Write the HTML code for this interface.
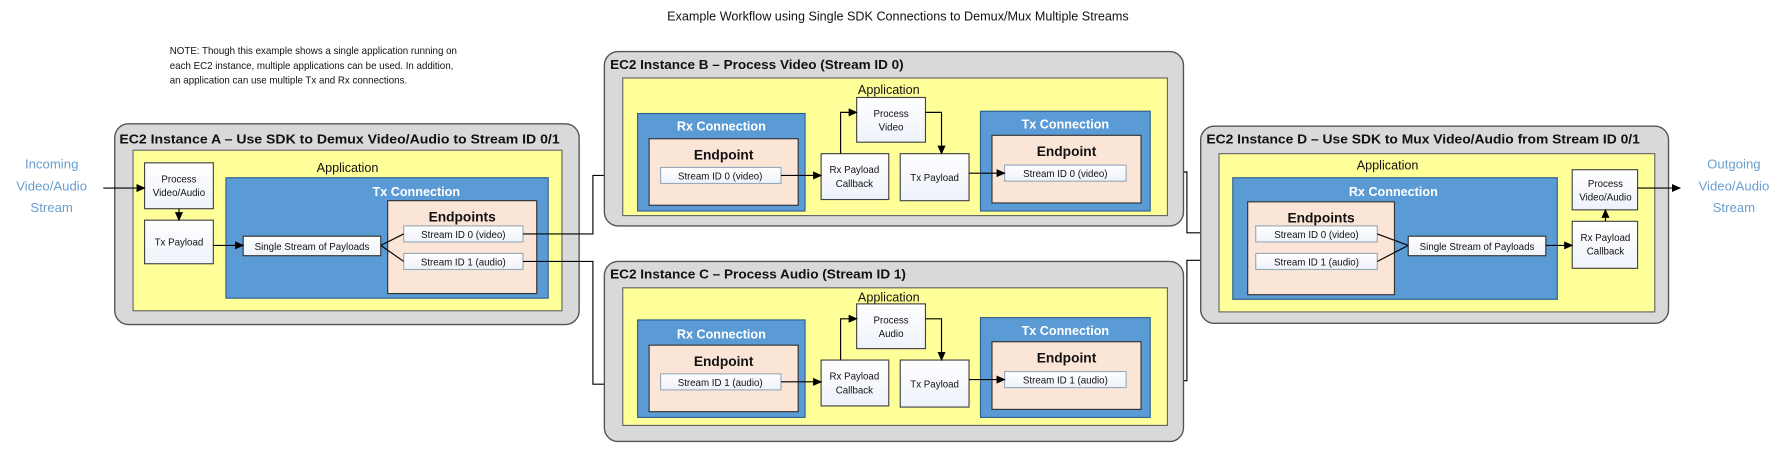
<!DOCTYPE html>
<html><head><meta charset="utf-8"><style>
html,body{margin:0;padding:0;background:#fff}
svg{display:block}
text{font-family:"Liberation Sans",sans-serif}
.t{font-weight:bold;font-size:11.5px;fill:#111}
.ap{font-size:11px;fill:#111;text-anchor:middle}
.cn{font-weight:bold;font-size:11px;fill:#fff;text-anchor:middle}
.ep{font-weight:bold;font-size:12px;fill:#111;text-anchor:middle}
.s{font-size:8.5px;fill:#111;text-anchor:middle}
.io{font-size:11.5px;fill:#6a9fd0;text-anchor:middle}
</style></head><body>
<svg width="1789" height="451" viewBox="0 0 1560 393.3" xmlns="http://www.w3.org/2000/svg">
<defs>
<marker id="a" markerWidth="8" markerHeight="8" refX="7" refY="4" orient="auto" markerUnits="userSpaceOnUse"><path d="M0,0.5 L8,4 L0,7.5z" fill="#000"/></marker>
<linearGradient id="w" x1="0" y1="0" x2="0" y2="1"><stop offset="0" stop-color="#fff"/><stop offset="1" stop-color="#eef2fa"/></linearGradient>
</defs>
<text x="783" y="18" font-size="11" text-anchor="middle" fill="#111">Example Workflow using Single SDK Connections to Demux/Mux Multiple Streams</text>
<g font-size="8.5" fill="#111">
<text x="148" y="47">NOTE: Though this example shows a single application running on</text>
<text x="148" y="60">each EC2 instance, multiple applications can be used. In addition,</text>
<text x="148" y="73">an application can use multiple Tx and Rx connections.</text>
</g>

<!-- Instance A -->
<rect x="100" y="108" width="405" height="175" rx="12" fill="#d9d9d9" stroke="#555" stroke-width="1.2"/>
<text class="t" x="104" y="125" textLength="384" lengthAdjust="spacingAndGlyphs">EC2 Instance A – Use SDK to Demux Video/Audio to Stream ID 0/1</text>
<rect x="116" y="131" width="374" height="140" fill="#ffff99" stroke="#666"/>
<text class="ap" x="303" y="150">Application</text>
<rect x="126" y="142" width="60" height="40" fill="url(#w)" stroke="#444"/>
<text class="s" x="156" y="159">Process</text><text class="s" x="156" y="171">Video/Audio</text>
<rect x="126" y="192" width="60" height="38" fill="url(#w)" stroke="#444"/>
<text class="s" x="156" y="214">Tx Payload</text>
<rect x="197" y="155" width="281" height="105" fill="#5b9bd5" stroke="#2f5f8f"/>
<text class="cn" x="363" y="171">Tx Connection</text>
<rect x="338" y="175" width="130" height="81" fill="#fbe5d6" stroke="#333"/>
<text class="ep" x="403" y="193">Endpoints</text>
<rect x="352" y="197" width="104" height="14" fill="url(#w)" stroke="#9ab"/>
<text class="s" x="404" y="207.5">Stream ID 0 (video)</text>
<rect x="352" y="221" width="104" height="14" fill="url(#w)" stroke="#9ab"/>
<text class="s" x="404" y="231.5">Stream ID 1 (audio)</text>
<rect x="212" y="206" width="120" height="17" fill="url(#w)" stroke="#333"/>
<text class="s" x="272" y="218">Single Stream of Payloads</text>
<path d="M332,214 L352,204 M332,214 L352,228" stroke="#000" fill="none"/>
<line x1="156" y1="182" x2="156" y2="192" stroke="#000" marker-end="url(#a)"/>
<line x1="186" y1="214" x2="212" y2="214" stroke="#000" marker-end="url(#a)"/>
<text class="io" x="45" y="147">Incoming</text><text class="io" x="45" y="166">Video/Audio</text><text class="io" x="45" y="185">Stream</text>
<line x1="90" y1="164" x2="126" y2="164" stroke="#000" marker-end="url(#a)"/>

<!-- connectors -->
<path d="M456,204 L517,204 L517,153 L576,153" stroke="#000" fill="none" marker-end="url(#a)"/>
<path d="M456,228 L517,228 L517,335 L576,335" stroke="#000" fill="none" marker-end="url(#a)"/>
<path d="M982,150 L1035,150 L1035,203 L1095,203" stroke="#000" fill="none" marker-end="url(#a)"/>
<path d="M982,332 L1035,332 L1035,227 L1095,227" stroke="#000" fill="none" marker-end="url(#a)"/>

<!-- Instance B -->
<g id="B">
<rect x="527" y="45" width="505" height="152" rx="12" fill="#d9d9d9" stroke="#555" stroke-width="1.2"/>
<text class="t" x="532" y="60" textLength="256" lengthAdjust="spacingAndGlyphs">EC2 Instance B – Process Video (Stream ID 0)</text>
<rect x="543" y="68" width="475" height="120" fill="#ffff99" stroke="#666"/>
<text class="ap" x="775" y="82">Application</text>
<rect x="556" y="99" width="146" height="85" fill="#5b9bd5" stroke="#2f5f8f"/>
<text class="cn" x="629" y="114">Rx Connection</text>
<rect x="566" y="121" width="130" height="58" fill="#fbe5d6" stroke="#333"/>
<text class="ep" x="631" y="139">Endpoint</text>
<rect x="576" y="146" width="105" height="14" fill="url(#w)" stroke="#9ab"/>
<text class="s" x="628" y="156.5">Stream ID 0 (video)</text>
<rect x="716" y="134" width="59" height="40" fill="url(#w)" stroke="#444"/>
<text class="s" x="745" y="151">Rx Payload</text><text class="s" x="745" y="163">Callback</text>
<rect x="747" y="85" width="60" height="39" fill="url(#w)" stroke="#444"/>
<text class="s" x="777" y="102">Process</text><text class="s" x="777" y="114">Video</text>
<rect x="785" y="134" width="60" height="41" fill="url(#w)" stroke="#444"/>
<text class="s" x="815" y="158">Tx Payload</text>
<rect x="855" y="97" width="148" height="87" fill="#5b9bd5" stroke="#2f5f8f"/>
<text class="cn" x="929" y="112">Tx Connection</text>
<rect x="865" y="118" width="130" height="59" fill="#fbe5d6" stroke="#333"/>
<text class="ep" x="930" y="136">Endpoint</text>
<rect x="876" y="144" width="106" height="14" fill="url(#w)" stroke="#9ab"/>
<text class="s" x="929" y="154.5">Stream ID 0 (video)</text>
<line x1="681" y1="153" x2="716" y2="153" stroke="#000" marker-end="url(#a)"/>
<path d="M733,134 L733,98 L747,98" stroke="#000" fill="none" marker-end="url(#a)"/>
<path d="M807,98 L821,98 L821,134" stroke="#000" fill="none" marker-end="url(#a)"/>
<line x1="845" y1="151" x2="876" y2="151" stroke="#000" marker-end="url(#a)"/>
</g>

<!-- Instance C -->
<g transform="translate(0,183)">
<rect x="527" y="45" width="505" height="157" rx="12" fill="#d9d9d9" stroke="#555" stroke-width="1.2"/>
<text class="t" x="532" y="60" textLength="258" lengthAdjust="spacingAndGlyphs">EC2 Instance C – Process Audio (Stream ID 1)</text>
<rect x="543" y="68" width="475" height="120" fill="#ffff99" stroke="#666"/>
<text class="ap" x="775" y="80">Application</text>
<rect x="556" y="96" width="146" height="85" fill="#5b9bd5" stroke="#2f5f8f"/>
<text class="cn" x="629" y="112">Rx Connection</text>
<rect x="566" y="118" width="130" height="58" fill="#fbe5d6" stroke="#333"/>
<text class="ep" x="631" y="136">Endpoint</text>
<rect x="576" y="143" width="105" height="14" fill="url(#w)" stroke="#9ab"/>
<text class="s" x="628" y="153.5">Stream ID 1 (audio)</text>
<rect x="716" y="131" width="59" height="40" fill="url(#w)" stroke="#444"/>
<text class="s" x="745" y="148">Rx Payload</text><text class="s" x="745" y="160">Callback</text>
<rect x="747" y="82" width="60" height="39" fill="url(#w)" stroke="#444"/>
<text class="s" x="777" y="99">Process</text><text class="s" x="777" y="111">Audio</text>
<rect x="785" y="131" width="60" height="41" fill="url(#w)" stroke="#444"/>
<text class="s" x="815" y="155">Tx Payload</text>
<rect x="855" y="94" width="148" height="87" fill="#5b9bd5" stroke="#2f5f8f"/>
<text class="cn" x="929" y="109">Tx Connection</text>
<rect x="865" y="115" width="130" height="59" fill="#fbe5d6" stroke="#333"/>
<text class="ep" x="930" y="133">Endpoint</text>
<rect x="876" y="141" width="106" height="14" fill="url(#w)" stroke="#9ab"/>
<text class="s" x="929" y="151.5">Stream ID 1 (audio)</text>
<line x1="681" y1="150" x2="716" y2="150" stroke="#000" marker-end="url(#a)"/>
<path d="M733,131 L733,95 L747,95" stroke="#000" fill="none" marker-end="url(#a)"/>
<path d="M807,95 L821,95 L821,131" stroke="#000" fill="none" marker-end="url(#a)"/>
<line x1="845" y1="148" x2="876" y2="148" stroke="#000" marker-end="url(#a)"/>
</g>

<!-- Instance D -->
<rect x="1047" y="110" width="408" height="172" rx="12" fill="#d9d9d9" stroke="#555" stroke-width="1.2"/>
<text class="t" x="1052" y="125" textLength="378" lengthAdjust="spacingAndGlyphs">EC2 Instance D – Use SDK to Mux Video/Audio from Stream ID 0/1</text>
<rect x="1063" y="134" width="380" height="138" fill="#ffff99" stroke="#666"/>
<text class="ap" x="1210" y="148">Application</text>
<rect x="1075" y="155" width="283" height="106" fill="#5b9bd5" stroke="#2f5f8f"/>
<text class="cn" x="1215" y="171">Rx Connection</text>
<rect x="1088" y="176" width="128" height="81" fill="#fbe5d6" stroke="#333"/>
<text class="ep" x="1152" y="194">Endpoints</text>
<rect x="1095" y="197" width="106" height="14" fill="url(#w)" stroke="#9ab"/>
<text class="s" x="1148" y="207.5">Stream ID 0 (video)</text>
<rect x="1095" y="221" width="106" height="14" fill="url(#w)" stroke="#9ab"/>
<text class="s" x="1148" y="231.5">Stream ID 1 (audio)</text>
<rect x="1228" y="206" width="120" height="17" fill="url(#w)" stroke="#333"/>
<text class="s" x="1288" y="218">Single Stream of Payloads</text>
<path d="M1201,204 L1228,214 M1201,228 L1228,214" stroke="#000" fill="none"/>
<rect x="1371" y="193" width="57" height="41" fill="url(#w)" stroke="#444"/>
<text class="s" x="1400" y="210">Rx Payload</text><text class="s" x="1400" y="222">Callback</text>
<rect x="1371" y="148" width="57" height="35" fill="url(#w)" stroke="#444"/>
<text class="s" x="1400" y="163">Process</text><text class="s" x="1400" y="175">Video/Audio</text>
<line x1="1348" y1="214" x2="1371" y2="214" stroke="#000" marker-end="url(#a)"/>
<line x1="1400" y1="193" x2="1400" y2="183" stroke="#000" marker-end="url(#a)"/>
<line x1="1428" y1="164" x2="1465" y2="164" stroke="#000" marker-end="url(#a)"/>
<text class="io" x="1512" y="147">Outgoing</text><text class="io" x="1512" y="166">Video/Audio</text><text class="io" x="1512" y="185">Stream</text>
</svg>
</body></html>
